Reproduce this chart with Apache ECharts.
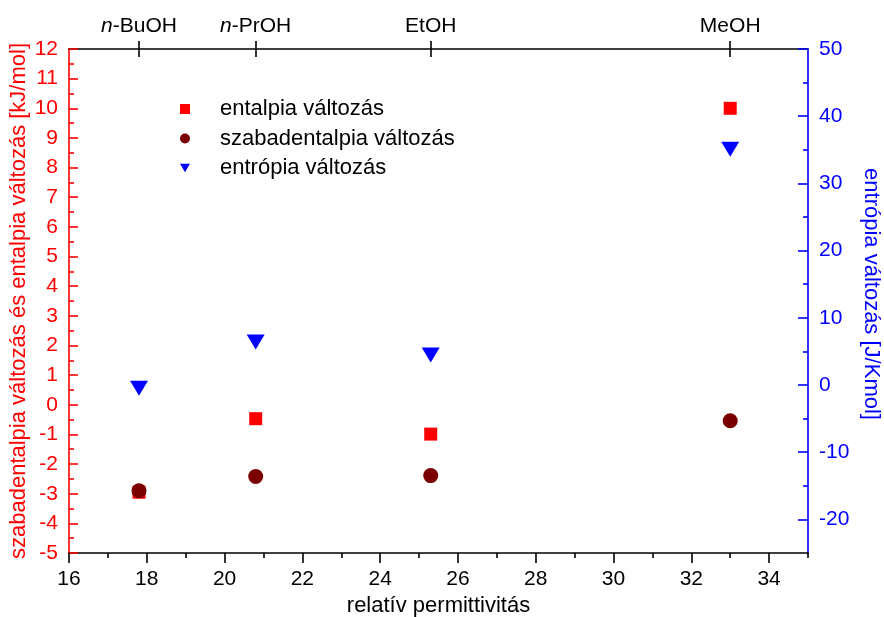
<!DOCTYPE html>
<html>
<head>
<meta charset="utf-8">
<script src="https://cdn.jsdelivr.net/npm/echarts@6/dist/echarts.min.js"></script>
<style>
html,body{margin:0;padding:0;background:#fff;}
#chart{width:884px;height:617px;}
</style>
</head>
<body>
<div id="chart"></div>
<script>
// ---- data ----
const permittivity = [17.8, 20.8, 25.3, 33.0];
const solvents = ['n-BuOH', 'n-PrOH', 'EtOH', 'MeOH'];
const enthalpy = [-2.95, -0.47, -0.99, 10.0];
const freeEnthalpy = [-2.90, -2.42, -2.39, -0.54];
const entropy = [-0.5, 6.4, 4.45, 35.1];
const seriesNames = ['entalpia változás', 'szabadentalpia változás', 'entrópia változás'];
const xMajorTicks = [16, 18, 20, 22, 24, 26, 28, 30, 32, 34];
const xMinorTicks = [17, 19, 21, 23, 25, 27, 29, 31, 33, 35];
const rightMajorTicks = [-20, -10, 0, 10, 20, 30, 40, 50];
const rightMinorTicks = [-15, -5, 5, 15, 25, 35, 45];
const xTitle = 'relatív permittivitás';
const leftTitle = 'szabadentalpia változás és entalpia változás [kJ/mol]';
const rightTitle = 'entrópia változás [J/Kmol]';

const FONT = 'Liberation Sans, Arial, sans-serif';
const TICKFS = 21;
const TITLEFS = 22;
const LW = 1.6;

function solventLabel(v) {
  let best = 0;
  for (let i = 1; i < permittivity.length; i++) {
    if (Math.abs(permittivity[i] - v) < Math.abs(permittivity[best] - v)) best = i;
  }
  const s = solvents[best];
  if (s.startsWith('n-')) return '{i|n}-' + s.slice(2);
  return s;
}

const chart = echarts.init(document.getElementById('chart'));
chart.setOption({
  backgroundColor: '#fff',
  animation: false,
  textStyle: { fontFamily: FONT },
  grid: { left: 69, right: 76, top: 49, bottom: 64, containLabel: false, outerBoundsMode: 'none' },
  legend: {
    orient: 'vertical',
    left: 180,
    top: 98,
    padding: 0,
    itemWidth: 10,
    itemHeight: 10,
    itemGap: 7.5,
    textStyle: { fontSize: TITLEFS, color: '#000', fontFamily: FONT, lineHeight: 20, padding: [0, 0, 0, 25] },
    data: [
      { name: seriesNames[0], icon: 'rect' },
      { name: seriesNames[1], icon: 'circle' },
      { name: seriesNames[2], icon: 'path://M0,0 L12,0 L6,10 Z' }
    ]
  },
  xAxis: [
    {
      type: 'value', position: 'bottom', min: 16, max: 35,
      axisLine: { show: true, onZero: false, lineStyle: { color: '#000', width: LW } },
      axisTick: { show: true, inside: false, length: 10, customValues: xMajorTicks, lineStyle: { color: '#000', width: LW } },
      axisLabel: { show: true, customValues: xMajorTicks, fontSize: TICKFS, color: '#000', margin: 16, fontFamily: FONT },
      splitLine: { show: false },
      name: xTitle, nameLocation: 'middle', nameGap: 38,
      nameTextStyle: { fontSize: TITLEFS, color: '#000', fontFamily: FONT }
    },
    {
      type: 'value', position: 'bottom', min: 16, max: 35,
      axisLine: { show: false, onZero: false },
      axisTick: { show: true, inside: false, length: 5, customValues: xMinorTicks, lineStyle: { color: '#000', width: LW } },
      axisLabel: { show: false },
      splitLine: { show: false }
    },
    {
      type: 'value', position: 'top', min: 16, max: 35,
      axisLine: { show: true, onZero: false, lineStyle: { color: '#000', width: LW } },
      axisTick: { show: true, inside: false, length: 8, customValues: permittivity, lineStyle: { color: '#000', width: LW } },
      axisLabel: {
        show: true, customValues: permittivity, fontSize: TICKFS, color: '#000', margin: 12, fontFamily: FONT,
        formatter: solventLabel,
        rich: { i: { fontStyle: 'italic', fontSize: TICKFS, color: '#000', fontFamily: FONT } }
      },
      splitLine: { show: false }
    },
    {
      type: 'value', position: 'top', min: 16, max: 35,
      axisLine: { show: false, onZero: false },
      axisTick: { show: true, inside: true, length: 8, customValues: permittivity, lineStyle: { color: '#000', width: LW } },
      axisLabel: { show: false },
      splitLine: { show: false }
    }
  ],
  yAxis: [
    {
      type: 'value', position: 'left', min: -5, max: 12, interval: 1,
      axisLine: { show: true, onZero: false, lineStyle: { color: '#ff0000', width: LW } },
      axisTick: { show: true, inside: true, length: 9, lineStyle: { color: '#ff0000', width: LW } },
      minorTick: { show: true, splitNumber: 2, length: 5, lineStyle: { color: '#ff0000', width: LW } },
      axisLabel: { fontSize: TICKFS, color: '#ff0000', margin: 11, fontFamily: FONT },
      splitLine: { show: false },
      name: leftTitle, nameLocation: 'middle', nameGap: 39, nameMoveOverlap: false,
      nameTextStyle: { fontSize: TITLEFS, color: '#ff0000', fontFamily: FONT }
    },
    {
      type: 'value', position: 'right', min: -25, max: 50,
      axisLine: { show: true, onZero: false, lineStyle: { color: '#0000ff', width: LW } },
      axisTick: { show: true, inside: true, length: 10, customValues: rightMajorTicks, lineStyle: { color: '#0000ff', width: LW } },
      axisLabel: { customValues: rightMajorTicks, fontSize: TICKFS, color: '#0000ff', margin: 11, fontFamily: FONT },
      splitLine: { show: false },
      name: rightTitle, nameLocation: 'middle', nameGap: 52, nameRotate: -90, nameMoveOverlap: false,
      nameTextStyle: { fontSize: TITLEFS, color: '#0000ff', fontFamily: FONT, padding: [0, 14, 0, 0] }
    },
    {
      type: 'value', position: 'right', min: -25, max: 50,
      axisLine: { show: false, onZero: false },
      axisTick: { show: true, inside: true, length: 5, customValues: rightMinorTicks, lineStyle: { color: '#0000ff', width: LW } },
      axisLabel: { show: false },
      splitLine: { show: false }
    }
  ],
  series: [
    {
      name: seriesNames[0], type: 'scatter', xAxisIndex: 0, yAxisIndex: 0,
      symbol: 'rect', symbolSize: 13,
      itemStyle: { color: '#ff0000', opacity: 1 },
      data: permittivity.map((x, i) => [x, enthalpy[i]])
    },
    {
      name: seriesNames[1], type: 'scatter', xAxisIndex: 0, yAxisIndex: 0,
      symbol: 'circle', symbolSize: 15,
      itemStyle: { color: '#7a0000', opacity: 1 },
      data: permittivity.map((x, i) => [x, freeEnthalpy[i]])
    },
    {
      name: seriesNames[2], type: 'scatter', xAxisIndex: 0, yAxisIndex: 1,
      symbol: 'triangle', symbolRotate: 180, symbolSize: [18, 15],
      itemStyle: { color: '#0000ff', opacity: 1 },
      data: permittivity.map((x, i) => [x, entropy[i]])
    }
  ]
});
</script>
</body>
</html>
